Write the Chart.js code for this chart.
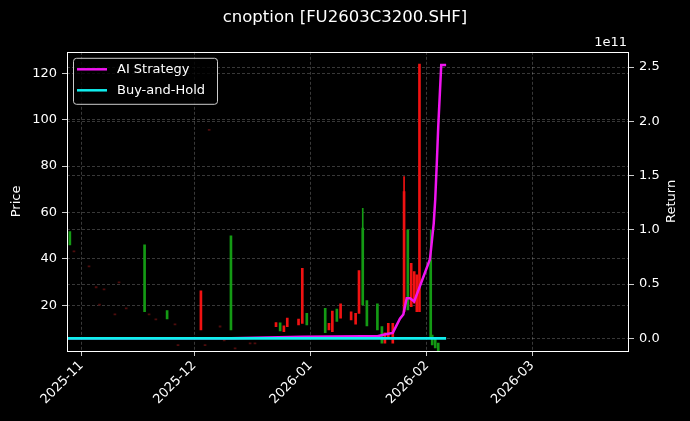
<!DOCTYPE html>
<html>
<head>
<meta charset="utf-8">
<script src="https://cdn.jsdelivr.net/npm/chart.js@4.4.1/dist/chart.umd.min.js"></script>
<style>
  html, body { margin: 0; padding: 0; background: #000; }
</style>
</head>
<body>
<canvas id="candleChart" width="690" height="421"></canvas>
<script>
// x values are day offsets counted from 2025-11-01
var monthTicks = [0, 30, 61, 92, 120];
var monthLabels = ['2025-11', '2025-12', '2026-01', '2026-02', '2026-03'];
var priceTicks = [20, 40, 60, 80, 100, 120];
var returnTicks = [0, 0.5, 1.0, 1.5, 2.0, 2.5]; // x 1e11

// candles
var candleDays = [-3.1, -2.0, 2.0, 3.9, 4.8, 6.0, 8.9, 10.0, 11.9, 16.8, 18.0, 19.8, 22.8, 24.9,
  25.7, 31.8, 32.9, 34.0, 36.9, 38.0, 39.8, 40.9, 44.9, 46.2, 51.8, 52.9, 53.9, 54.8, 57.8, 58.8,
  60.0, 64.9, 65.9, 66.8, 68.0, 69.0, 71.8, 73.0, 73.9, 74.9, 76.0, 78.8, 80.0, 80.8, 81.7, 82.9,
  85.9, 86.9, 87.8, 88.6, 89.3, 90.0, 93.0, 93.4, 94.2, 95.0];
var opens = [51.7, 43.0, 36.5, 27.5, 20.0, 26.6, 15.8, 29.6, 18.4, 46.0, 15.8, 13.7, 17.7, 11.5,
  2.6, 9.4, 2.6, 95.3, 10.6, 4.6, 49.9, 1.2, 3.3, 3.3, 10.8, 12.4, 8.6, 10.8, 11.5, 12.2,
  16.5, 18.7, 9.4, 8.6, 18.4, 14.4, 13.7, 11.9, 16.5, 53.3, 22.0, 20.6, 10.8, 3.7, 5.8, 3.7,
  17.2, 52.5, 19.4, 20.9, 17.2, 17.2, 39.5, 7.2, 5.8, 3.7];
var closes = [46.0, 43.5, 37.0, 28.0, 20.5, 27.1, 16.3, 30.1, 18.9, 17.2, 16.3, 14.2, 14.1, 12.0,
  3.1, 26.2, 3.1, 95.8, 11.1, 5.1, 9.4, 1.7, 3.8, 3.8, 12.5, 9.0, 11.1, 14.5, 14.0, 35.9,
  11.5, 8.2, 12.2, 17.5, 13.0, 20.6, 17.2, 16.5, 34.9, 20.1, 11.1, 9.4, 3.7, 8.1, 12.2, 12.2,
  69.0, 18.0, 38.1, 34.5, 33.1, 123.9, 6.3, 2.9, 1.6, 0.3];
// candles whose high/low reach past the body
var wickDays = [74.9, 85.9, 93.0];
var wickHighs = [61.8, 75.4, 52.5];
var wickLows = [20.1, 17.2, 6.3];

// equity curves
var lineDays = [-3.8, 16.8, 39.8, 58.8, 74.9, 78.8, 81.3, 82.9, 84.8, 85.7, 86.6, 87.5, 88.6,
  92.8, 93.8, 94.2, 94.6, 95.0, 95.8, 97.1];
var aiReturn = [0, 0, 0, 0.015, 0.02, 0.02, 0.04, 0.05, 0.18, 0.22, 0.37, 0.37, 0.34,
  0.73, 1.06, 1.28, 1.6, 1.95, 2.52, 2.52]; // x 1e11
var bhReturn = [0, 0, 0, 0, 0, 0, 0, 0, 0, 0, 0, 0, 0, 0, 0, 0, 0, 0, 0, 0];

var FONT = 'DejaVu Sans';
var gridColor = 'rgba(255,255,255,0.28)';

function candleColor(i) {
  var d = closes[i] - opens[i];
  if (Math.abs(d) < 1) return '#4e0c0c';
  return d > 0 ? '#f01212' : '#149a14';
}

var bodies = candleDays.map(function (d, i) { return { x: d, y: [opens[i], closes[i]] }; });
var wicks = wickDays.map(function (d, i) { return { x: d, y: [wickLows[i], wickHighs[i]] }; });
var wickColors = wickDays.map(function (d) {
  var i = candleDays.indexOf(d);
  return candleColor(i);
});

var decorations = {
  id: 'decorations',
  afterDraw: function (chart) {
    var ctx = chart.ctx, a = chart.chartArea;
    ctx.save();
    // frame
    ctx.strokeStyle = '#ffffff';
    ctx.lineWidth = 1;
    ctx.strokeRect(Math.round(a.left) + 0.5, Math.round(a.top) + 0.5,
      Math.round(a.right - a.left) - 1, Math.round(a.bottom - a.top));

    ctx.fillStyle = '#ffffff';
    ctx.font = '13px "' + FONT + '"';
    ctx.textBaseline = 'middle';
    // axis labels
    ctx.save();
    ctx.translate(17, (a.top + a.bottom) / 2);
    ctx.rotate(-Math.PI / 2);
    ctx.textAlign = 'center';
    ctx.fillText('Price', 0, 0);
    ctx.restore();
    ctx.save();
    ctx.translate(672, (a.top + a.bottom) / 2);
    ctx.rotate(-Math.PI / 2);
    ctx.textAlign = 'center';
    ctx.fillText('Return', 0, 0);
    ctx.restore();
    // offset text
    ctx.textAlign = 'right';
    ctx.fillText('1e11', a.right - 2, a.top - 9);

    // legend
    var lx = a.left + 6, ly = a.top + 6, lw = 144, lh = 46;
    ctx.beginPath();
    ctx.roundRect(lx + 0.5, ly + 0.5, lw, lh, 3);
    ctx.fillStyle = 'rgba(0,0,0,0.8)';
    ctx.fill();
    ctx.strokeStyle = '#cccccc';
    ctx.stroke();
    var items = [chart.data.datasets[0], chart.data.datasets[1]];
    items.forEach(function (ds, k) {
      var y = ly + 11.5 + k * 21;
      ctx.strokeStyle = ds.borderColor;
      ctx.lineWidth = 2.5;
      ctx.beginPath();
      ctx.moveTo(lx + 4, y);
      ctx.lineTo(lx + 34, y);
      ctx.stroke();
      ctx.fillStyle = '#ffffff';
      ctx.textAlign = 'left';
      ctx.fillText(ds.label, lx + 44, y);
    });
    ctx.restore();
  }
};

var ctx = document.getElementById('candleChart').getContext('2d');
var chart = new Chart(ctx, {
  type: 'bar',
  data: {
    datasets: [
      {
        type: 'line', label: 'AI Strategy', yAxisID: 'yR', order: 1,
        data: lineDays.map(function (d, i) { return { x: d, y: aiReturn[i] * 1e11 }; }),
        borderColor: '#f014f0', borderWidth: 2.5, pointRadius: 0, tension: 0
      },
      {
        type: 'line', label: 'Buy-and-Hold', yAxisID: 'yR', order: 0,
        data: lineDays.map(function (d, i) { return { x: d, y: bhReturn[i] * 1e11 }; }),
        borderColor: '#10eeee', borderWidth: 2.8, pointRadius: 0, tension: 0
      },
      {
        label: 'body', yAxisID: 'y', order: 3, data: bodies,
        backgroundColor: candleDays.map(function (d, i) { return candleColor(i); }),
        barThickness: 2, grouped: false, borderWidth: 0
      },
      {
        label: 'wick', yAxisID: 'y', order: 4, data: wicks,
        backgroundColor: wickColors, barThickness: 1, grouped: false, borderWidth: 0
      }
    ]
  },
  options: {
    responsive: false,
    animation: false,
    layout: { padding: 0 },
    plugins: {
      legend: { display: false },
      tooltip: { enabled: false },
      title: {
        display: true,
        text: 'cnoption [FU2603C3200.SHF]',
        color: '#ffffff',
        font: { family: FONT, size: 16.5, weight: 'normal' },
        padding: { top: 8, bottom: 24 }
      }
    },
    scales: {
      x: {
        type: 'linear', min: -3.86, max: 145.8, offset: false,
        afterBuildTicks: function (s) { s.ticks = monthTicks.map(function (v) { return { value: v }; }); },
        afterFit: function (s) { s.height = 70; },
        ticks: {
          color: '#ffffff', font: { family: FONT, size: 13 }, autoSkip: false,
          maxRotation: 45, minRotation: 45, padding: 2,
          callback: function (v) { var i = monthTicks.indexOf(v); return i >= 0 ? monthLabels[i] : ''; }
        },
        grid: { offset: false, color: gridColor, tickColor: '#ffffff', tickLength: 5, lineWidth: 0.8 },
        border: { display: false, dash: [3, 2] }
      },
      y: {
        position: 'left', min: 0.3, max: 129.2,
        afterBuildTicks: function (s) { s.ticks = priceTicks.map(function (v) { return { value: v }; }); },
        afterFit: function (s) { s.width = 67; },
        ticks: { color: '#ffffff', font: { family: FONT, size: 13 }, padding: 5 },
        grid: { color: gridColor, tickColor: '#ffffff', tickLength: 5, lineWidth: 0.8 },
        border: { display: false, dash: [3, 2] }
      },
      yR: {
        position: 'right', min: -0.117e11, max: 2.641e11,
        afterBuildTicks: function (s) { s.ticks = returnTicks.map(function (v) { return { value: v * 1e11 }; }); },
        afterFit: function (s) { s.width = 61; },
        ticks: {
          color: '#ffffff', font: { family: FONT, size: 13 }, padding: 5,
          callback: function (v) { return (v / 1e11).toFixed(1); }
        },
        grid: { color: gridColor, tickColor: '#ffffff', tickLength: 5, lineWidth: 0.8 },
        border: { display: false, dash: [3, 2] }
      }
    }
  },
  plugins: [decorations]
});
</script>
</body>
</html>
